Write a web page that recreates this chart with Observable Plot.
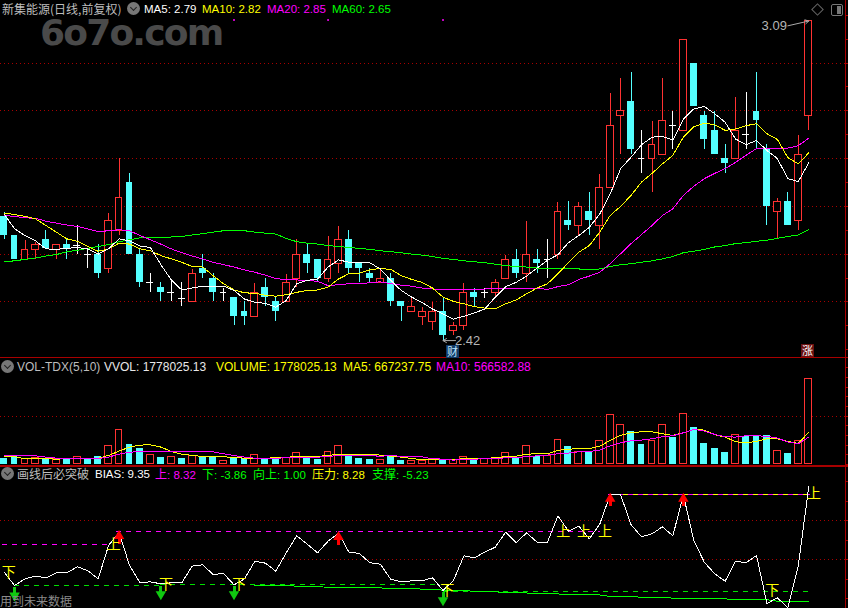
<!DOCTYPE html>
<html><head><meta charset="utf-8">
<script src="https://cdn.jsdelivr.net/npm/d3@7"></script>
<script src="https://cdn.jsdelivr.net/npm/@observablehq/plot@0.6"></script>
<style>
html,body{margin:0;padding:0;background:#000;overflow:hidden}
#root{position:relative;width:848px;height:608px;background:#000;overflow:hidden;font-family:"Liberation Sans",Arial,sans-serif}
.panel{position:absolute;left:0}
.panel svg{display:block}
.t{position:absolute;white-space:nowrap;font-size:11.5px;line-height:14px;z-index:3}
.v{font-size:12px}
.cjk{font-family:"Noto Sans CJK SC","Liberation Sans",sans-serif;font-size:12px}
.ico{position:absolute;width:13px;height:13px;border-radius:50%;background:#777;z-index:3}
.ico:after{content:"";position:absolute;left:3.5px;top:2.5px;width:4px;height:4px;border-right:1.5px solid #222;border-bottom:1.5px solid #222;transform:rotate(45deg)}
.badge{position:absolute;width:13px;height:13px;font:11px/13px "Noto Sans CJK SC",sans-serif;text-align:center;z-index:3}
</style></head><body>
<div id="root">
<div class="t" id="wm" style="left:40px;top:19px;font:bold 36px/28px 'DejaVu Sans',sans-serif;letter-spacing:-1.8px;color:#4a4a4a;z-index:0">6o7o.com</div>
<div id="p1" class="panel" style="top:0"></div>
<div id="p2" class="panel" style="top:358px"></div>
<div id="p3" class="panel" style="top:465px"></div>

<span class="t cjk" style="left:2px;top:2px;color:#bdbdbd">新集能源(日线,前复权)</span>
<div class="ico" style="left:127px;top:2px"></div>
<span class="t" style="left:144px;top:2px;color:#fff">MA5: 2.79</span>
<span class="t" style="left:202px;top:2px;color:#ff0">MA10: 2.82</span>
<span class="t" style="left:267px;top:2px;color:#f0f">MA20: 2.85</span>
<span class="t" style="left:332px;top:2px;color:#0f0">MA60: 2.65</span>
<div style="position:absolute;left:813px;top:5px;width:7px;height:7px;border:1px solid #666;transform:rotate(45deg);z-index:3"></div>
<div style="position:absolute;left:831px;top:4px;width:10px;height:10px;border:1px solid #777;border-radius:2px;z-index:3"><div style="position:absolute;right:1px;top:1px;width:4px;height:8px;background:#777"></div></div>

<div class="badge" style="left:446px;top:345px;background:#123a66;color:#bfe6ff">财</div>
<div class="badge" style="left:801px;top:344px;background:#6a1010;color:#fff">涨</div>

<div class="ico" style="left:1px;top:360px"></div>
<span class="t v" style="left:17px;top:360px;color:#bdbdbd">VOL-TDX(5,10)</span>
<span class="t v" style="left:104px;top:360px;color:#e8e8e8">VVOL: 1778025.13</span>
<span class="t v" style="left:216px;top:360px;color:#ff0">VOLUME: 1778025.13</span>
<span class="t v" style="left:343px;top:360px;color:#ff0">MA5: 667237.75</span>
<span class="t v" style="left:436px;top:360px;color:#f0f">MA10: 566582.88</span>

<div class="ico" style="left:1px;top:467px"></div>
<span class="t cjk" style="left:17px;top:467px;color:#bdbdbd">画线后必突破</span>
<span class="t" style="left:95px;top:467px;color:#fff">BIAS: 9.35</span>
<span class="t" style="left:155px;top:467px;color:#f0f"><span class="cjk">上</span>: 8.32</span>
<span class="t" style="left:202px;top:467px;color:#0f0"><span class="cjk">下</span>: -3.86</span>
<span class="t" style="left:253px;top:467px;color:#0f0"><span class="cjk">向上</span>: 1.00</span>
<span class="t" style="left:312px;top:467px;color:#ff0"><span class="cjk">压力</span>: 8.28</span>
<span class="t" style="left:372px;top:467px;color:#0f0"><span class="cjk">支撑</span>: -5.23</span>
<span class="t cjk" style="left:0;top:594px;color:#8a8a8a">用到未来数据</span>
</div>
<script>
const opens=[2.679,2.639,2.588,2.609,2.630,2.609,2.620,2.618,2.599,2.599,2.568,2.649,2.750,2.599,2.540,2.530,2.520,2.508,2.499,2.570,2.549,2.520,2.509,2.480,2.468,2.530,2.500,2.499,2.547,2.599,2.589,2.547,2.579,2.630,2.580,2.559,2.539,2.549,2.501,2.478,2.469,2.458,2.479,2.439,2.449,2.519,2.519,2.518,2.547,2.589,2.558,2.589,2.589,2.598,2.670,2.659,2.689,2.659,2.738,2.889,2.920,2.800,2.800,2.807,2.869,2.858,2.999,2.890,2.859,2.800,2.800,2.850,2.898,2.821,2.688,2.710,2.670,2.889];
const closes=[2.639,2.589,2.609,2.619,2.611,2.619,2.609,2.618,2.599,2.560,2.670,2.718,2.599,2.540,2.540,2.520,2.520,2.508,2.559,2.559,2.520,2.520,2.469,2.469,2.519,2.509,2.480,2.540,2.599,2.580,2.549,2.588,2.630,2.570,2.570,2.549,2.548,2.501,2.490,2.489,2.479,2.479,2.429,2.450,2.519,2.510,2.519,2.540,2.588,2.559,2.598,2.580,2.589,2.688,2.660,2.699,2.670,2.739,2.869,2.899,2.819,2.800,2.829,2.879,2.869,3.049,2.909,2.840,2.809,2.790,2.858,2.850,2.879,2.700,2.710,2.660,2.808,3.089];
const highs=[2.688,2.639,2.628,2.625,2.649,2.619,2.630,2.660,2.611,2.620,2.686,2.800,2.769,2.610,2.559,2.540,2.545,2.540,2.568,2.599,2.559,2.529,2.509,2.501,2.538,2.549,2.509,2.557,2.630,2.620,2.589,2.637,2.658,2.649,2.580,2.570,2.570,2.559,2.501,2.507,2.488,2.499,2.510,2.457,2.538,2.529,2.529,2.547,2.597,2.610,2.668,2.610,2.630,2.708,2.710,2.708,2.729,2.767,2.936,2.968,2.980,2.859,2.878,2.968,2.899,3.049,2.999,2.899,2.899,2.829,2.928,2.938,2.980,2.829,2.716,2.729,2.848,3.090];
const lows=[2.630,2.589,2.586,2.589,2.611,2.589,2.589,2.599,2.570,2.549,2.559,2.639,2.599,2.531,2.520,2.501,2.501,2.490,2.499,2.549,2.500,2.500,2.450,2.450,2.468,2.490,2.459,2.499,2.531,2.559,2.540,2.540,2.559,2.559,2.540,2.540,2.539,2.490,2.459,2.478,2.450,2.440,2.420,2.429,2.440,2.490,2.508,2.508,2.547,2.549,2.541,2.559,2.549,2.589,2.650,2.639,2.639,2.610,2.738,2.809,2.809,2.769,2.730,2.807,2.819,2.858,2.909,2.819,2.809,2.769,2.800,2.819,2.821,2.660,2.632,2.660,2.650,2.859];

const ma5=[2.684,2.653,2.639,2.628,2.611,2.610,2.612,2.614,2.611,2.600,2.611,2.632,2.628,2.617,2.614,2.578,2.546,2.525,2.529,2.533,2.533,2.533,2.524,2.506,2.499,2.497,2.489,2.503,2.538,2.545,2.548,2.573,2.588,2.583,2.582,2.582,2.569,2.545,2.524,2.510,2.499,2.485,2.475,2.464,2.470,2.477,2.485,2.510,2.532,2.541,2.554,2.571,2.587,2.599,2.624,2.639,2.656,2.684,2.726,2.779,2.803,2.829,2.845,2.846,2.839,2.883,2.904,2.909,2.894,2.876,2.841,2.829,2.838,2.817,2.800,2.758,2.752,2.791];
const ma10=[2.686,2.683,2.679,2.674,2.660,2.646,2.632,2.627,2.616,2.606,2.611,2.623,2.621,2.611,2.607,2.597,2.590,2.583,2.574,2.573,2.555,2.538,2.525,2.519,2.518,2.514,2.512,2.515,2.520,2.524,2.525,2.531,2.548,2.559,2.560,2.567,2.570,2.568,2.555,2.547,2.541,2.529,2.510,2.501,2.496,2.490,2.487,2.485,2.496,2.504,2.517,2.529,2.538,2.559,2.582,2.604,2.618,2.646,2.681,2.700,2.723,2.751,2.769,2.789,2.807,2.845,2.867,2.874,2.871,2.859,2.862,2.869,2.873,2.852,2.840,2.802,2.789,2.812];
const ma20=[2.681,2.679,2.676,2.675,2.669,2.665,2.661,2.658,2.653,2.647,2.649,2.651,2.649,2.639,2.630,2.621,2.611,2.603,2.596,2.590,2.583,2.578,2.573,2.567,2.562,2.556,2.549,2.546,2.546,2.545,2.543,2.534,2.536,2.538,2.538,2.540,2.542,2.538,2.535,2.533,2.529,2.527,2.527,2.526,2.526,2.527,2.527,2.529,2.529,2.529,2.528,2.529,2.526,2.532,2.536,2.547,2.554,2.562,2.580,2.601,2.622,2.641,2.660,2.681,2.695,2.723,2.742,2.758,2.769,2.779,2.792,2.807,2.821,2.821,2.821,2.822,2.827,2.843];
const ma60=[2.584,2.586,2.589,2.592,2.596,2.599,2.605,2.608,2.612,2.616,2.620,2.626,2.630,2.634,2.634,2.634,2.636,2.637,2.640,2.643,2.646,2.649,2.649,2.649,2.646,2.644,2.642,2.633,2.626,2.623,2.621,2.618,2.616,2.614,2.612,2.610,2.607,2.605,2.603,2.600,2.598,2.595,2.591,2.589,2.586,2.584,2.582,2.579,2.576,2.574,2.573,2.571,2.570,2.570,2.569,2.569,2.567,2.569,2.574,2.578,2.580,2.583,2.586,2.590,2.595,2.603,2.606,2.610,2.615,2.618,2.622,2.624,2.627,2.629,2.633,2.637,2.640,2.651];

const volumes=[125,159,111,138,111,104,111,159,104,159,387,719,415,325,201,145,159,125,180,152,152,76,131,118,201,125,131,131,242,131,104,263,387,194,131,104,97,166,90,69,76,97,90,90,159,90,118,118,242,131,387,173,173,512,374,263,277,491,1031,823,685,415,491,823,560,1052,768,436,332,249,616,581,581,602,284,228,491,1778];
const dojiVolUp=[7,14,16,21,46,52];
const volMa5=[166,159,118,118,118,111,118,125,118,131,187,277,360,401,408,360,270,214,187,166,159,159,145,131,131,131,138,152,159,159,166,187,214,214,214,214,194,173,152,125,97,97,104,104,118,118,118,145,159,173,214,221,221,291,318,325,325,380,498,602,657,678,678,636,602,657,726,712,616,567,470,450,477,533,533,477,436,667];
const volMa10=[180,180,180,180,152,131,118,125,118,125,152,214,256,263,270,270,277,277,277,277,263,221,187,152,131,131,131,138,145,145,152,166,187,187,180,180,173,180,173,159,159,118,111,90,104,111,118,125,138,145,159,180,194,221,235,263,270,297,387,450,491,505,533,574,595,657,726,692,623,574,567,595,595,581,547,464,429,567];

const bias=[-1.58,-3.29,-2.44,-2.09,-2.31,-1.67,-1.67,-0.90,-1.37,-2.44,1.84,3.55,-0.73,-2.91,-2.82,-3.08,-2.95,-2.95,-0.81,-0.64,-1.88,-1.75,-3.21,-2.44,-0.17,-0.43,-1.45,0.90,3.08,2.01,0.90,2.39,3.42,0.98,0.81,-0.38,-0.56,-2.48,-2.82,-2.69,-2.69,-2.31,-3.93,-2.65,0.51,0.26,0.98,1.62,3.55,2.18,3.46,2.26,2.26,5.64,3.68,4.32,2.69,4.57,8.33,8.33,4.49,2.95,3.33,4.23,3.08,8.33,2.48,-0.30,-1.79,-2.74,-0.17,-0.38,0.56,-5.60,-4.87,-6.15,-0.73,9.35];
const supportLine=[-3.25,-3.25,-3.25,-3.25,-3.40,-3.40,-3.40,-3.55,-3.55,-3.55,-3.60,-3.60,-3.60,-3.70,-3.70,-3.70,-3.75,-3.75,-3.90,-3.90,-3.90,-4.07,-4.07,-4.07,-4.25,-4.25,-4.25,-4.37,-4.37,-4.37,-4.50,-4.50,-4.50,-4.50,-4.70,-4.70,-4.70,-4.80,-4.80,-4.80,-4.92,-4.92,-4.92,-5.00,-5.00,-5.00,-5.12,-5.12,-5.12,-5.12,-5.30,-5.30,-5.38,-5.38];
const supportStart=24;
const magentaLevels=[-0.2,10.2,1.92, 10.8,31.9,3.68, 32,57.1,3.6];
const greenLevels=[1,15,-3.29, 15,41.8,-3.2, 42,77,-4.0];
const topLevel=[57.8,77.2,8.33];
const upArrowI=[11,32,58,65], upArrowTip=[3.55,3.42,8.33,8.33], upArrowTail=[1.97,1.85,6.85,6.85];
const downArrowI=[1,15,22,42], downArrowTip=[-5.09,-4.91,-4.91,-5.68], downArrowTail=[-3.5,-3.42,-3.42,-4.23];
const shangI=[10.5,53.5,55.5,57.5,77.5], shangV=[1.97,3.63,3.63,3.63,8.46];
const xiaI=[0.45,15.5,22.5,42.4,73.5], xiaV=[-1.58,-3.2,-3.2,-3.97,-3.97];
const priceGrid=[2.5,2.6,2.7,2.8,2.9,3.0], priceTicks=[2.4,2.45,2.5,2.55,2.6,2.65,2.7,2.75,2.8,2.85,2.9,2.95,3.0,3.05,3.1];
const volTicks=[0,200,400,600,800,1000,1200,1400,1600,1800,2000], biasGrid=[0,5], biasTicks=[-5,-2.5,0,2.5,5,7.5,10];
const magentaDotI=[22,31,42];

const RED="#ff3232",CYAN="#54ffff",BORDER="#a80000",GRID="#a80000";
const idx=d3.range(opens.length);
const xs={domain:[0,77],range:[3.6,808.25],axis:null};
const barHalf=0.33;
const isDoji=i=>opens[i]===closes[i];
const up=idx.filter(i=>!isDoji(i)&&closes[i]>opens[i]);
const down=idx.filter(i=>!isDoji(i)&&closes[i]<opens[i]);
const doji=idx.filter(isDoji);
const crisp={shapeRendering:"crispEdges"};
const base={width:848,margin:0,x:xs,style:{background:"transparent",display:"block"}};
const axisRule=(ticks)=>[
  Plot.ruleX([80.52],{stroke:BORDER,...crisp}),
  Plot.ruleY(ticks,{x1:80.52,x2:81,stroke:BORDER,...crisp})
];
const maLine=(arr,c)=>Plot.line(idx,{x:i=>i,y:i=>arr[i],stroke:c,strokeWidth:1,...crisp});

// price panel
document.getElementById("p1").append(Plot.plot({...base,height:358,
 y:{domain:[2.3815,3.131],range:[358,0],axis:null},
 marks:[
  Plot.ruleY(priceGrid,{stroke:GRID,strokeDasharray:"1,3",...crisp}),
  ...axisRule(priceTicks),
  Plot.ruleY([2.3825],{stroke:BORDER,strokeWidth:1.5,...crisp}),
  Plot.ruleX(up,{x:i=>i,y1:i=>lows[i],y2:i=>highs[i],stroke:RED,...crisp}),
  Plot.ruleX(down,{x:i=>i,y1:i=>lows[i],y2:i=>highs[i],stroke:CYAN,...crisp}),
  Plot.ruleX(doji,{x:i=>i,y1:i=>lows[i],y2:i=>highs[i],stroke:"#fff",...crisp}),
  Plot.ruleY(doji,{y:i=>closes[i],x1:i=>i-barHalf,x2:i=>i+barHalf,stroke:"#fff",...crisp}),
  Plot.rect(up,{x1:i=>i-barHalf,x2:i=>i+barHalf,y1:i=>opens[i],y2:i=>closes[i],fill:"#000",stroke:RED,...crisp,clip:true}),
  Plot.rect(down,{x1:i=>i-barHalf,x2:i=>i+barHalf,y1:i=>closes[i],y2:i=>opens[i],fill:CYAN,...crisp,clip:true}),
  maLine(ma60,"#00ff00"),maLine(ma20,"#ff00ff"),maLine(ma10,"#ffff00"),maLine(ma5,"#ffffff"),
  Plot.dot(magentaDotI,{x:i=>i,y:()=>3.09,r:1,fill:"#ff00ff"}),
  Plot.arrow([0],{x1:()=>75,y1:()=>3.078,x2:()=>77,y2:()=>3.088,stroke:"#aaa",strokeWidth:1,bend:0,headLength:6}),
  Plot.arrow([0],{x1:()=>43.2,y1:()=>2.419,x2:()=>42,y2:()=>2.419,stroke:"#aaa",strokeWidth:1,bend:0,headLength:6}),
  Plot.text(["3.09"],{x:()=>73.7,y:()=>3.078,text:d=>d,fill:"#b5b5b5",fontSize:13,fontFamily:"Liberation Sans"}),
  Plot.text(["2.42"],{x:()=>44.35,y:()=>2.418,text:d=>d,fill:"#b5b5b5",fontSize:13,fontFamily:"Liberation Sans"})
 ]}));

// volume panel
const volUp=idx.filter(i=>isDoji(i)?dojiVolUp.includes(i):closes[i]>opens[i]);
const volDown=idx.filter(i=>!volUp.includes(i));
document.getElementById("p2").append(Plot.plot({...base,height:107,
 y:{domain:[-21,2194],range:[107,0],axis:null},
 marks:[
  Plot.ruleY([1000],{stroke:GRID,strokeDasharray:"1,3",...crisp}),
  ...axisRule(volTicks),
  Plot.rect(volDown,{x1:i=>i-barHalf,x2:i=>i+barHalf,y1:()=>0,y2:i=>volumes[i],fill:CYAN,...crisp}),
  Plot.rect(volUp,{x1:i=>i-barHalf,x2:i=>i+barHalf,y1:()=>0,y2:i=>volumes[i],fill:"#000",stroke:RED,...crisp}),
  maLine(volMa5,"#ffff00"),maLine(volMa10,"#ff00ff")
 ]}));

// BIAS panel
const triples=a=>d3.range(0,a.length,3).map(k=>a.slice(k,k+3));
document.getElementById("p3").append(Plot.plot({...base,height:143,
 y:{domain:[-6.24,12.09],range:[143,0],axis:null},
 marks:[
  Plot.ruleY(biasGrid,{stroke:GRID,strokeDasharray:"1,3",...crisp}),
  ...axisRule(biasTicks),
  Plot.ruleY([12.04],{stroke:BORDER,strokeWidth:1.5,...crisp}),
  Plot.ruleY(triples(magentaLevels),{x1:d=>d[0],x2:d=>d[1],y:d=>d[2],stroke:"#ff00ff",strokeDasharray:"5,5",...crisp}),
  Plot.ruleY(triples(greenLevels),{x1:d=>d[0],x2:d=>d[1],y:d=>d[2],stroke:"#00e000",strokeDasharray:"5,5",...crisp}),
  Plot.ruleY([topLevel],{x1:d=>d[0],x2:d=>d[1],y:d=>d[2],stroke:"#ffff00",...crisp}),
  Plot.ruleY([topLevel],{x1:d=>d[0],x2:d=>d[1],y:d=>d[2],stroke:"#ff00ff",strokeDasharray:"5,5",...crisp}),
  Plot.line(supportLine,{x:(d,i)=>supportStart+i,y:d=>d,stroke:"#00ff00",strokeWidth:1,...crisp}),
  Plot.line(idx,{x:i=>i,y:i=>bias[i],stroke:"#fff",strokeWidth:1,clip:true,...crisp}),
  Plot.ruleX(d3.range(4),{x:k=>upArrowI[k],y1:k=>upArrowTail[k],y2:k=>upArrowTip[k]-0.6,stroke:"#ff0000",strokeWidth:3,...crisp}),
  Plot.dot(d3.range(4),{x:k=>upArrowI[k],y:k=>upArrowTip[k]-0.5,symbol:"triangle",r:3.9,fill:"#ff0000"}),
  Plot.ruleX(d3.range(4),{x:k=>downArrowI[k],y1:k=>downArrowTail[k],y2:k=>downArrowTip[k]+0.6,stroke:"#10c810",strokeWidth:3,...crisp}),
  Plot.dot(d3.range(4),{x:k=>downArrowI[k],y:k=>downArrowTip[k]+0.5,symbol:"triangle",rotate:180,r:3.9,fill:"#10c810"}),
  Plot.text(shangI,{x:d=>d,y:(d,i)=>shangV[i],text:()=>"上",fill:"#ffff00",fontSize:14,fontFamily:"Noto Sans CJK SC"}),
  Plot.text(xiaI,{x:d=>d,y:(d,i)=>xiaV[i],text:()=>"下",fill:"#ffff00",fontSize:14,fontFamily:"Noto Sans CJK SC"})
 ]}));
</script>
</body></html>
